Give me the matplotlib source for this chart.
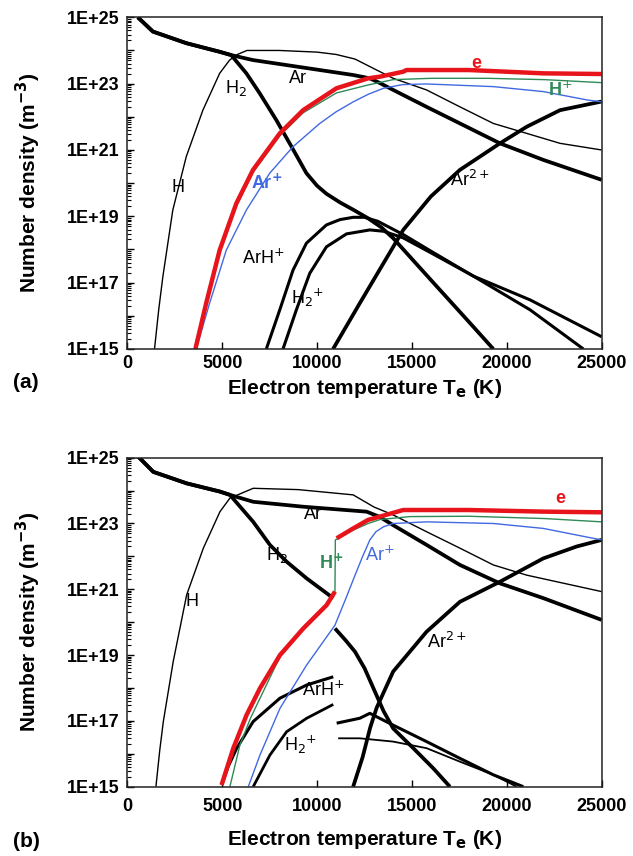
import numpy as np
import matplotlib
matplotlib.use("Agg")
import matplotlib.pyplot as plt
from matplotlib.ticker import FixedLocator, LogLocator, NullFormatter

plt.rcParams['font.family'] = ['Liberation Sans', 'DejaVu Sans']

# ---------------- panel (a) : temperature (K), log10 number density ----------------
T_Ar_a = [545, 1340, 3100, 4860, 5470, 6620, 8380, 10140, 11900, 12780, 13300, 14010, 15770, 17530, 19640, 21930, 25000]
n_Ar_a = [25.0, 24.57, 24.22, 23.96, 23.86, 23.71, 23.56, 23.41, 23.26, 23.16, 23.02, 22.81, 22.30, 21.80, 21.20, 20.70, 20.10]

T_H2_a = [545, 1340, 3100, 4860, 5470, 6270, 6970, 7850, 8550, 9435, 10000, 10490, 11200, 11900, 12690, 13400, 14010, 16000, 18000, 19290]
n_H2_a = [25.0, 24.57, 24.22, 23.96, 23.86, 23.31, 22.71, 21.90, 21.20, 20.30, 19.92, 19.68, 19.42, 19.2, 18.94, 18.66, 18.34, 17.08, 15.82, 15.0]

T_H_a = [1425, 1650, 1865, 2390, 3100, 3975, 4860, 5385, 5800, 6300, 8000, 10000, 11000, 12000, 13000, 14010, 15770, 17530, 19290, 21050, 22810, 25000]
n_H_a = [15.0, 16.2, 17.18, 19.19, 20.8, 22.2, 23.31, 23.71, 23.88, 24.0, 24.0, 23.95, 23.88, 23.74, 23.45, 23.16, 22.81, 22.30, 21.80, 21.50, 21.20, 21.0]

T_e_a = [3580, 4150, 4860, 5740, 6620, 8030, 9260, 11020, 12690, 13310, 14540, 14710, 18000, 21930, 25000]
n_e_a = [15.0, 16.38, 17.98, 19.39, 20.40, 21.50, 22.2, 22.86, 23.16, 23.21, 23.36, 23.41, 23.41, 23.31, 23.29]

T_Hp_a = [3620, 4150, 4860, 5740, 6620, 8030, 9260, 11020, 12690, 14000, 16000, 19000, 22000, 25000]
n_Hp_a = [15.0, 16.3, 17.9, 19.3, 20.33, 21.43, 22.12, 22.72, 22.96, 23.12, 23.16, 23.16, 23.12, 23.03]

T_Arp_a = [3625, 4330, 5210, 6270, 7500, 8730, 10140, 11000, 11900, 12700, 13500, 14500, 15770, 19290, 21930, 24220, 25000]
n_Arp_a = [15.0, 16.38, 17.98, 19.19, 20.30, 21.1, 21.80, 22.15, 22.45, 22.68, 22.86, 22.97, 22.99, 22.91, 22.76, 22.51, 22.45]

T_ArHp_a = [7320, 8030, 8730, 9435, 10490, 11200, 11900, 12500, 13200, 14540, 16000, 18230, 21230, 24040]
n_ArHp_a = [15.0, 16.18, 17.38, 18.19, 18.74, 18.9, 18.97, 18.97, 18.85, 18.45, 17.95, 17.2, 16.18, 15.0]

T_H2p_a = [8200, 8905, 9610, 10490, 11550, 12780, 13500, 14540, 16000, 18230, 21230, 25000]
n_H2p_a = [15.0, 16.18, 17.28, 18.08, 18.47, 18.59, 18.55, 18.35, 17.9, 17.2, 16.48, 15.37]

T_Ar2p_a = [10840, 12250, 14540, 16000, 17530, 19640, 21050, 22810, 25000]
n_Ar2p_a = [15.0, 16.38, 18.59, 19.6, 20.40, 21.2, 21.70, 22.2, 22.46]

# ---------------- panel (b) ----------------
T_Ar_b = [570, 1360, 3120, 4877, 5400, 6630, 9270, 12610, 13300, 14010, 15770, 17530, 19640, 21930, 25000]
n_Ar_b = [25.03, 24.57, 24.22, 23.97, 23.87, 23.66, 23.51, 23.36, 23.2, 22.95, 22.35, 21.74, 21.18, 20.73, 20.07]

T_H2_b1 = [570, 1360, 3120, 4877, 5400, 6630, 7510, 8390, 9450, 10850]
n_H2_b1 = [25.03, 24.57, 24.22, 23.97, 23.87, 23.05, 22.35, 21.84, 21.33, 20.73]
T_H2_b2 = [10940, 11500, 12000, 12500, 13000, 13500, 14010, 15070, 16120, 17000]
n_H2_b2 = [19.81, 19.45, 19.1, 18.6, 17.95, 17.3, 16.77, 16.17, 15.56, 15.0]

T_H_b = [1500, 1700, 1890, 2410, 3120, 4000, 4877, 5400, 6630, 9000, 11900, 13000, 14010, 15770, 17530, 19290, 21050, 25000]
n_H_b = [15.0, 16.1, 16.98, 18.80, 20.83, 22.25, 23.36, 23.77, 24.07, 24.03, 23.87, 23.5, 23.26, 22.75, 22.25, 21.74, 21.43, 20.93]

T_e_b1 = [4960, 5580, 6280, 6985, 8040, 9270, 10500, 10940]
n_e_b1 = [15.05, 16.17, 17.18, 17.99, 19.0, 19.81, 20.52, 20.93]
T_e_b2 = [11030, 11900, 12690, 13310, 14540, 18000, 22000, 25000]
n_e_b2 = [22.55, 22.85, 23.11, 23.21, 23.41, 23.41, 23.36, 23.34]

T_Hp_b = [5400, 5930, 6500, 8040, 9270, 10500, 10940, 10960, 11900, 12690, 13310, 14890, 18000, 22000, 25000]
n_Hp_b = [15.0, 16.27, 17.1, 18.95, 19.78, 20.5, 20.9, 22.5, 22.8, 23.0, 23.12, 23.21, 23.22, 23.15, 23.05]

T_Arp_b = [6370, 6985, 8040, 9450, 10940, 11500, 12000, 12400, 12780, 13100, 13500, 14010, 15770, 19290, 21930, 24560, 25000]
n_Arp_b = [15.0, 15.96, 17.38, 18.70, 19.91, 20.7, 21.43, 22.0, 22.5, 22.75, 22.9, 23.0, 23.05, 23.0, 22.85, 22.55, 22.5]

T_ArHp_b1 = [5000, 5300, 5760, 6630, 8040, 9450, 10850]
n_ArHp_b1 = [15.1, 15.6, 16.17, 16.98, 17.69, 18.09, 18.34]
T_ArHp_b2 = [11030, 12250, 12780, 14010, 15770, 17530, 19290, 20870]
n_ArHp_b2 = [16.93, 17.08, 17.23, 16.87, 16.37, 15.86, 15.36, 15.0]

T_H2p_b1 = [6630, 7510, 8390, 9450, 10850]
n_H2p_b1 = [15.0, 15.96, 16.67, 17.08, 17.5]
T_H2p_b2 = [11110, 12250, 14010, 15770, 17530, 19290, 20520]
n_H2p_b2 = [16.47, 16.47, 16.37, 16.17, 15.76, 15.36, 15.0]

T_Ar2p_b = [11900, 12400, 12800, 13140, 14010, 15770, 17530, 19640, 21930, 23680, 25000]
n_Ar2p_b = [15.0, 15.9, 16.8, 17.4, 18.5, 19.71, 20.62, 21.23, 21.94, 22.30, 22.50]

red = '#e8141b'
blue = '#4169e1'
green = '#2e8b57'


def curve(ax, T, logn, color='black', lw=2.7):
    ax.plot(T, 10.0 ** np.array(logn), color=color, lw=lw, solid_capstyle='butt')


def setup(ax, xpad, xlab_y):
    ax.set_yscale('log')
    ax.set_xlim(0, 25000)
    ax.set_ylim(1e15, 1e25)
    ax.yaxis.set_major_locator(FixedLocator([10.0 ** k for k in range(15, 26)]))
    ax.set_yticklabels(['1E+%d' % k if k % 2 == 1 else '' for k in range(15, 26)])
    ax.yaxis.set_minor_locator(LogLocator(base=10, subs=np.arange(2, 10), numticks=30))
    ax.yaxis.set_minor_formatter(NullFormatter())
    ax.set_xticks([0, 5000, 10000, 15000, 20000, 25000])
    ax.tick_params(axis='both', which='both', direction='in', top=False, right=False)
    ax.tick_params(axis='y', which='major', length=5, width=1, pad=6)
    ax.tick_params(axis='y', which='minor', length=3, width=0.8)
    ax.tick_params(axis='x', which='major', length=5, width=1, pad=xpad)
    for t in ax.get_xticklabels() + ax.get_yticklabels():
        t.set_fontsize(13)
        t.set_fontweight('bold')
    for s in ax.spines.values():
        s.set_linewidth(1.1)
        s.set_color('#222222')
    ax.set_ylabel('Number density (m$^{\\mathbf{-3}}$)', fontsize=15, fontweight='bold')
    ax.yaxis.set_label_coords(-0.178, 0.5)
    ax.set_xlabel('Electron temperature T$_{\\mathbf{e}}$ (K)', fontsize=15, fontweight='bold')
    ax.xaxis.set_label_coords(0.5, xlab_y)


def lab(ax, T, logn, s, color='black', weight='normal'):
    ax.text(T, 10.0 ** logn, s, color=color, fontsize=13, fontweight=weight,
            ha='center', va='center')


fig = plt.figure(figsize=(6.33, 8.56), dpi=100)
ax1 = fig.add_axes([0.2014, 0.5923, 0.749, 0.3875])
ax2 = fig.add_axes([0.2014, 0.0810, 0.749, 0.3843])

# panel (a)
curve(ax1, T_H_a, n_H_a, lw=1.0)
curve(ax1, T_Ar_a, n_Ar_a)
curve(ax1, T_H2_a, n_H2_a)
curve(ax1, T_ArHp_a, n_ArHp_a, lw=2.2)
curve(ax1, T_H2p_a, n_H2p_a, lw=2.2)
curve(ax1, T_Ar2p_a, n_Ar2p_a)
curve(ax1, T_Arp_a, n_Arp_a, color=blue, lw=1.0)
curve(ax1, T_Hp_a, n_Hp_a, color=green, lw=1.0)
curve(ax1, T_e_a, n_e_a, color=red, lw=3.2)
setup(ax1, 4, -0.085)
lab(ax1, 2640, 19.88, 'H')
lab(ax1, 5700, 22.86, 'H$_2$')
lab(ax1, 8990, 23.16, 'Ar')
lab(ax1, 7320, 20.0, 'Ar$^{\\mathbf{+}}$', color=blue, weight='bold')
lab(ax1, 7145, 17.73, 'ArH$^{+}$')
lab(ax1, 9500, 16.55, 'H$_2$$^{+}$')
lab(ax1, 18060, 20.1, 'Ar$^{2+}$')
lab(ax1, 18410, 23.62, 'e', color=red, weight='bold')
lab(ax1, 22810, 22.8, 'H$^{+}$', color=green, weight='bold')

# panel (b)
curve(ax2, T_H_b, n_H_b, lw=1.0)
curve(ax2, T_Ar_b, n_Ar_b)
curve(ax2, T_H2_b1, n_H2_b1)
curve(ax2, T_H2_b2, n_H2_b2)
curve(ax2, T_ArHp_b1, n_ArHp_b1, lw=2.2)
curve(ax2, T_ArHp_b2, n_ArHp_b2, lw=2.2)
curve(ax2, T_H2p_b1, n_H2p_b1, lw=2.0)
curve(ax2, T_H2p_b2, n_H2p_b2, lw=1.3)
curve(ax2, T_Ar2p_b, n_Ar2p_b)
curve(ax2, T_Arp_b, n_Arp_b, color=blue, lw=1.0)
curve(ax2, T_Hp_b, n_Hp_b, color=green, lw=1.0)
curve(ax2, T_e_b1, n_e_b1, color=red, lw=3.2)
curve(ax2, T_e_b2, n_e_b2, color=red, lw=3.2)
setup(ax2, 8, -0.125)
lab(ax2, 3380, 20.62, 'H')
lab(ax2, 7900, 22.04, 'H$_2$')
lab(ax2, 10760, 21.79, 'H$^{\\mathbf{+}}$', color=green, weight='bold')
lab(ax2, 9800, 23.26, 'Ar')
lab(ax2, 13310, 22.04, 'Ar$^{+}$', color=blue)
lab(ax2, 10320, 17.94, 'ArH$^{+}$')
lab(ax2, 9100, 16.27, 'H$_2$$^{+}$')
lab(ax2, 16830, 19.41, 'Ar$^{2+}$')
lab(ax2, 22800, 23.77, 'e', color=red, weight='bold')

fig.text(0.02, 0.5526, '(a)', fontsize=15, fontweight='bold', va='center')
fig.text(0.02, 0.0175, '(b)', fontsize=15, fontweight='bold', va='center')

fig.savefig('out.png', dpi=100)
